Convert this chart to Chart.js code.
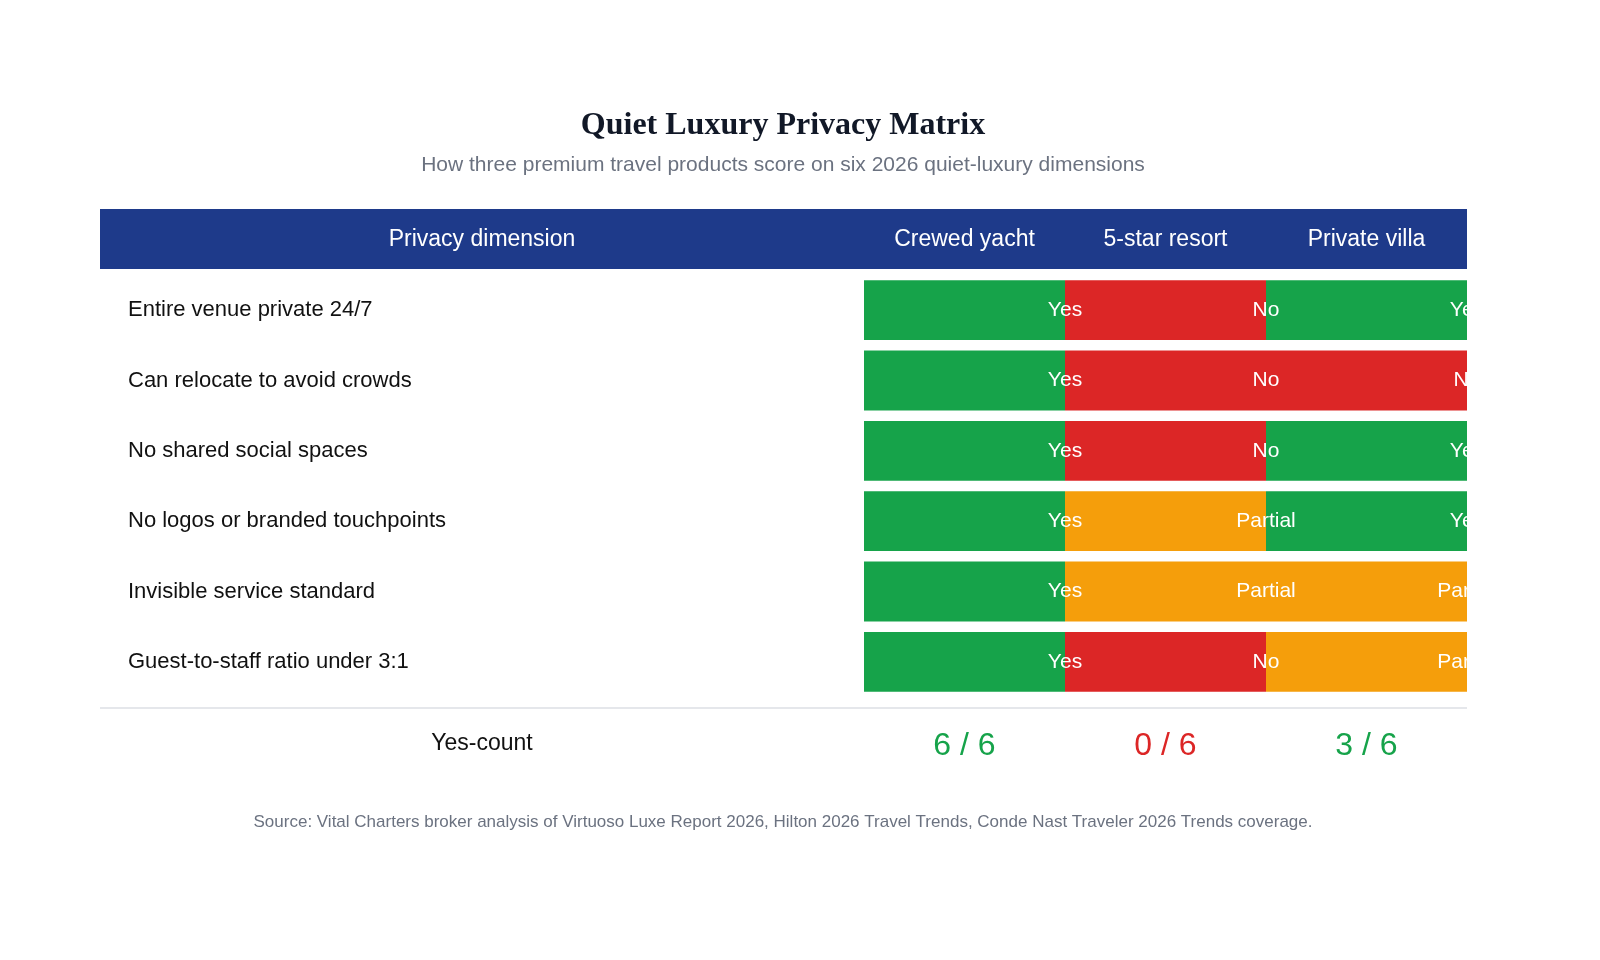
<!DOCTYPE html>
<html>
<head>
<meta charset="utf-8">
<script src="https://cdn.jsdelivr.net/npm/chart.js@4"></script>
<style>
  body { margin: 0; background: #fff; }
  #wrap { width: 1600px; height: 960px; }
</style>
</head>
<body>
<div id="wrap"><canvas id="myChart"></canvas></div>
<script>
var dimensions = [
    "Entire venue private 24/7",
    "Can relocate to avoid crowds",
    "No shared social spaces",
    "No logos or branded touchpoints",
    "Invisible service standard",
    "Guest-to-staff ratio under 3:1"
];
var products = ["Crewed yacht", "5-star resort", "Private villa"];
var yachtScores = ["Yes", "Yes", "Yes", "Yes", "Yes", "Yes"];
var resortScores = ["No", "No", "No", "Partial", "Partial", "No"];
var villaScores = ["Yes", "No", "Yes", "Yes", "Partial", "Partial"];
var allScores = [yachtScores, resortScores, villaScores];

var scoreColors = { "Yes": "#16a34a", "No": "#dc2626", "Partial": "#f59e0b" };
var SANS = "'Liberation Sans', Arial, sans-serif";

var datasets = allScores.map(function (scores, col) {
    return {
        label: products[col],
        data: scores.map(function () { return [col, col + 1]; }),
        backgroundColor: scores.map(function (s) { return scoreColors[s]; }),
        borderWidth: 0,
        grouped: false,
        categoryPercentage: 1,
        barPercentage: 0.85
    };
});

var tablePlugin = {
    id: "tableDecor",
    afterDatasetsDraw: function (chart) {
        var ctx = chart.ctx;
        var xs = chart.scales.x;
        var area = chart.chartArea;
        var leftEdge = 100;
        var labelCenter = (leftEdge + area.left) / 2;
        ctx.save();
        ctx.textAlign = "center";
        ctx.textBaseline = "middle";

        // title + subtitle
        ctx.fillStyle = "#111827";
        ctx.font = "bold 32px 'Liberation Serif', Georgia, serif";
        ctx.fillText("Quiet Luxury Privacy Matrix", 783, 126);
        ctx.fillStyle = "#6b7280";
        ctx.font = "21px " + SANS;
        ctx.fillText("How three premium travel products score on six 2026 quiet-luxury dimensions", 783, 165);

        // header bar
        ctx.fillStyle = "#1e3a8a";
        ctx.fillRect(leftEdge, 209, area.right - leftEdge, 60);
        ctx.fillStyle = "#ffffff";
        ctx.font = "23px " + SANS;
        ctx.fillText("Privacy dimension", labelCenter, 240);
        products.forEach(function (p, i) {
            ctx.fillText(p, xs.getPixelForValue(i + 0.5), 240);
        });

        // cell labels
        ctx.font = "21px " + SANS;
        chart.data.datasets.forEach(function (ds, di) {
            chart.getDatasetMeta(di).data.forEach(function (bar, ri) {
                ctx.fillStyle = "#ffffff";
                ctx.fillText(allScores[di][ri], bar.x - bar.width / 2 + (bar.width) / 2 + 0, bar.y);
            });
        });

        // divider
        ctx.strokeStyle = "#e5e7eb";
        ctx.lineWidth = 2;
        ctx.beginPath();
        ctx.moveTo(leftEdge, 708);
        ctx.lineTo(area.right, 708);
        ctx.stroke();

        // yes-count row
        ctx.fillStyle = "#111";
        ctx.font = "23px " + SANS;
        ctx.fillText("Yes-count", labelCenter, 744);
        ctx.font = "32px " + SANS;
        allScores.forEach(function (scores, i) {
            var yes = scores.filter(function (s) { return s === "Yes"; }).length;
            ctx.fillStyle = yes >= scores.length / 2 ? "#16a34a" : "#dc2626";
            ctx.fillText(yes + " / " + scores.length, xs.getPixelForValue(i + 0.5), 746);
        });

        // source
        ctx.fillStyle = "#6b7280";
        ctx.font = "17px " + SANS;
        ctx.fillText("Source: Vital Charters broker analysis of Virtuoso Luxe Report 2026, Hilton 2026 Travel Trends, Conde Nast Traveler 2026 Trends coverage.", 783, 822);
        ctx.restore();
    }
};

new Chart("myChart", {
    type: "bar",
    data: { labels: dimensions, datasets: datasets },
    options: {
        indexAxis: "y",
        responsive: true,
        maintainAspectRatio: false,
        animation: false,
        layout: { padding: { left: 128, right: 133, top: 275, bottom: 263 } },
        plugins: { legend: { display: false }, tooltip: { enabled: false } },
        scales: {
            x: { min: 0, max: 3, display: false },
            y: {
                border: { display: false },
                grid: { display: false },
                afterFit: function (scale) { scale.width = 736; },
                ticks: {
                    crossAlign: "far",
                    padding: 0,
                    color: "#111",
                    font: { family: "'Liberation Sans', Arial, sans-serif", size: 22 }
                }
            }
        }
    },
    plugins: [tablePlugin]
});
</script>
</body>
</html>
